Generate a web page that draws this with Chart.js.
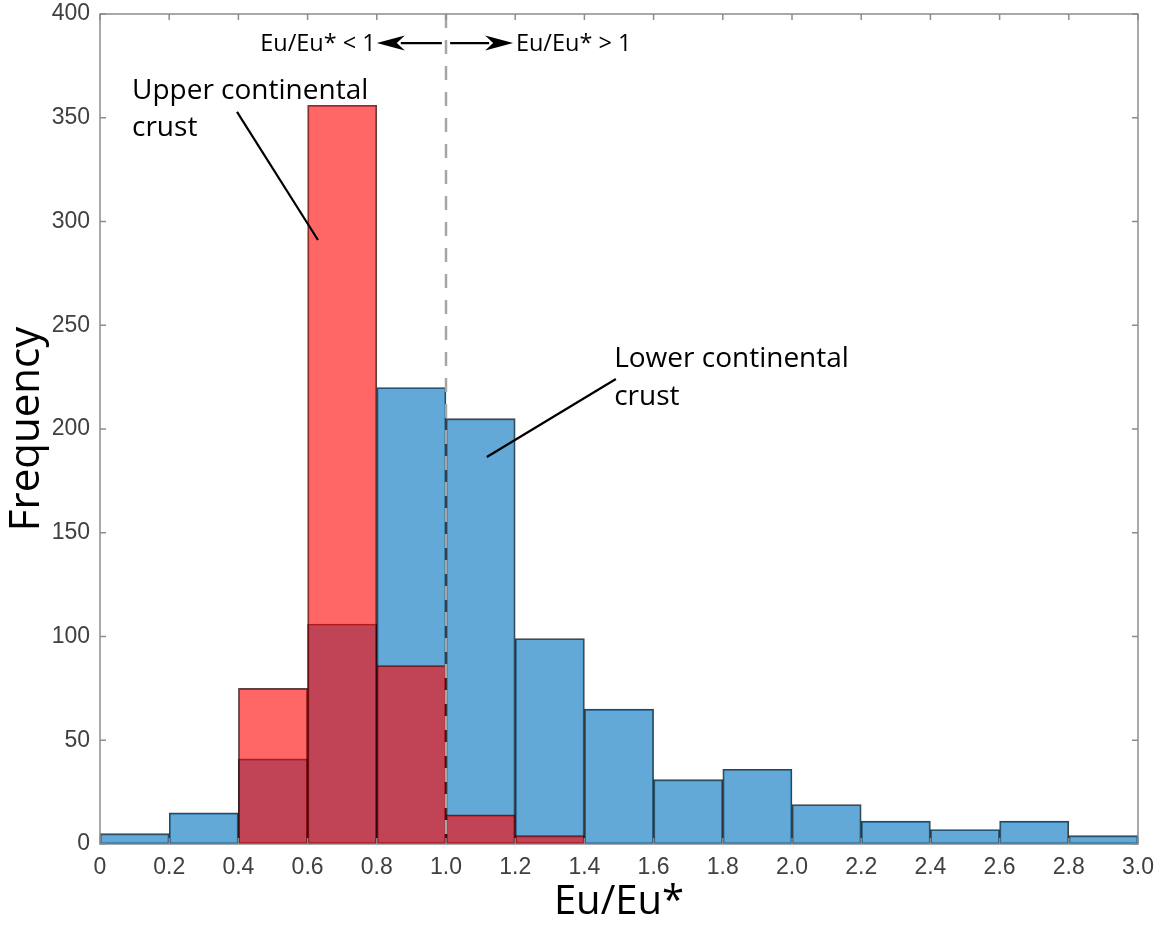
<!DOCTYPE html>
<html>
<head>
<meta charset="utf-8">
<title>Eu/Eu* histogram</title>
<script src="https://cdn.jsdelivr.net/npm/chart.js@4.4.1/dist/chart.umd.min.js"></script>
<style>
html,body{margin:0;padding:0;background:#fff}
</style>
</head>
<body>
<canvas id="euChart" width="1158" height="930"></canvas>
<script>

// ===============================
// DATA (bins are 0.2 wide)
// ===============================

const binCenters = [0.1,0.3,0.5,0.7,0.9,1.1,1.3,1.5,1.7,1.9,2.1,2.3,2.5,2.7,2.9]

const lowerCrust = [5,15,41,106,220,205,99,65,31,36,19,11,7,11,4]

const upperCrust = [null,null,75,356,86,14,4,null,null,null,null,null,null,null,null]

const xTickLabels = ["0","0.2","0.4","0.6","0.8","1.0","1.2","1.4","1.6","1.8","2.0","2.2","2.4","2.6","2.8","3.0"]

const yTickLabels = ["0","50","100","150","200","250","300","350","400"]

// annotation anchors, in data units
const dividerX = 1.0

const upperLabel = {lines:["Upper continental","crust"], x:0.0925, y:[359,341.2]}
const upperLeader = [[0.396,352.8],[0.630,291.1]]

const lowerLabel = {lines:["Lower continental","crust"], x:1.486, y:[229.9,211.6]}
const lowerLeader = [[1.491,224.1],[1.118,186.5]]

const leftNote = {text:"Eu/Eu* < 1", x:0.797, y:382.2}
const rightNote = {text:"Eu/Eu* > 1", x:1.202, y:382.2}
const leftArrow = {from:0.988, to:0.80, y:386}
const rightArrow = {from:1.012, to:1.194, y:386}

const FRAME = "#8c8c8c"
const LABEL_FONT = "'Open Sans', 'Noto Sans', sans-serif"
const TICK_FONT = "'Liberation Sans', Arial, sans-serif"

function toPoints(values){
return values.map((v,i)=>({x:binCenters[i], y:v}))
}

// no extra room for tick labels, the layout padding decides
function noScalePadding(scale){
scale.paddingTop = 0
scale.paddingBottom = 0
scale.paddingLeft = 0
scale.paddingRight = 0
}

// ===============================
// PLUGIN: frame, inner ticks, notes
// ===============================

function drawArrow(ctx, x1, x2, y){

const dir = x2 > x1 ? 1 : -1
const headLen = 28
const halfW = 7.5
const notch = 8

ctx.beginPath()
ctx.moveTo(x1, y)
ctx.lineTo(x2 - dir*(headLen-4), y)
ctx.stroke()

ctx.beginPath()
ctx.moveTo(x2, y)
ctx.lineTo(x2 - dir*headLen, y - halfW)
ctx.lineTo(x2 - dir*(headLen-notch), y)
ctx.lineTo(x2 - dir*headLen, y + halfW)
ctx.closePath()
ctx.fill()

}

const notesPlugin = {

id:"notes",

afterDatasetsDraw(chart){

const {ctx, chartArea:a} = chart
const x = chart.scales.x
const y = chart.scales.y

ctx.save()

// dashed divider at Eu/Eu* = 1
const xd = x.getPixelForValue(dividerX)
ctx.strokeStyle = "#a6a6a6"
ctx.lineWidth = 2.5
ctx.setLineDash([14,12])
ctx.beginPath()
ctx.moveTo(xd, a.top)
ctx.lineTo(xd, a.bottom)
ctx.stroke()
ctx.setLineDash([])

// box round the axes
ctx.strokeStyle = FRAME
ctx.lineWidth = 1.5
ctx.strokeRect(a.left, a.top, a.right-a.left, a.bottom-a.top)

// ticks pointing inwards on all four sides
const tl = 6
ctx.beginPath()
x.ticks.forEach(t=>{
const px = x.getPixelForValue(t.value)
ctx.moveTo(px, a.bottom); ctx.lineTo(px, a.bottom-tl)
ctx.moveTo(px, a.top); ctx.lineTo(px, a.top+tl)
})
y.ticks.forEach(t=>{
const py = y.getPixelForValue(t.value)
ctx.moveTo(a.left, py); ctx.lineTo(a.left+tl, py)
ctx.moveTo(a.right, py); ctx.lineTo(a.right-tl, py)
})
ctx.stroke()

// arrows and the two notes at the top
ctx.strokeStyle = "#000"
ctx.fillStyle = "#000"
ctx.lineWidth = 2.2
drawArrow(ctx, x.getPixelForValue(leftArrow.from), x.getPixelForValue(leftArrow.to), y.getPixelForValue(leftArrow.y))
drawArrow(ctx, x.getPixelForValue(rightArrow.from), x.getPixelForValue(rightArrow.to), y.getPixelForValue(rightArrow.y))

ctx.font = "23.5px " + LABEL_FONT
ctx.textBaseline = "alphabetic"
ctx.textAlign = "right"
ctx.fillText(leftNote.text, x.getPixelForValue(leftNote.x), y.getPixelForValue(leftNote.y))
ctx.textAlign = "left"
ctx.fillText(rightNote.text, x.getPixelForValue(rightNote.x), y.getPixelForValue(rightNote.y))

// crust labels
ctx.font = "28px " + LABEL_FONT
;[upperLabel, lowerLabel].forEach(lbl=>{
lbl.lines.forEach((line,i)=>{
ctx.fillText(line, x.getPixelForValue(lbl.x), y.getPixelForValue(lbl.y[i]))
})
})

// leader lines
ctx.lineWidth = 2.2
;[upperLeader, lowerLeader].forEach(seg=>{
ctx.beginPath()
ctx.moveTo(x.getPixelForValue(seg[0][0]), y.getPixelForValue(seg[0][1]))
ctx.lineTo(x.getPixelForValue(seg[1][0]), y.getPixelForValue(seg[1][1]))
ctx.stroke()
})

ctx.restore()

}

}

// ===============================
// CHART
// ===============================

const euChart = new Chart(document.getElementById("euChart"),{

type:"bar",

data:{
datasets:[
{
label:"Upper continental crust",
data:toPoints(upperCrust),
backgroundColor:"rgba(255,0,0,0.6)",
borderColor:"rgba(40,0,0,0.75)",
borderWidth:1.2,
borderSkipped:false,
grouped:false,
barPercentage:1,
categoryPercentage:1
},
{
label:"Lower continental crust",
data:toPoints(lowerCrust),
backgroundColor:"rgba(0,114,189,0.61)",
borderColor:"rgba(0,0,0,0.75)",
borderWidth:1.2,
borderSkipped:false,
grouped:false,
barPercentage:1,
categoryPercentage:1
}
]
},

options:{
responsive:false,
animation:false,
events:[],

layout:{
padding:{left:0, right:20, top:14, bottom:0}
},

plugins:{
legend:{display:false},
tooltip:{enabled:false}
},

scales:{

x:{
type:"linear",
min:0,
max:3,
offset:false,
grid:{display:false, drawTicks:false, offset:false},
border:{display:false},
ticks:{
stepSize:0.2,
padding:10,
color:"#404040",
font:{family:TICK_FONT, size:23},
maxRotation:0,
autoSkip:false,
callback:(v,i)=>xTickLabels[i]
},
title:{
display:true,
text:"Eu/Eu*",
color:"#000",
font:{family:LABEL_FONT, size:40},
padding:{top:0, bottom:3}
},
afterFit:(scale)=>{ scale.height = 86; noScalePadding(scale) }
},

y:{
min:0,
max:400,
grid:{display:false, drawTicks:false},
border:{display:false},
ticks:{
stepSize:50,
padding:10,
color:"#404040",
font:{family:TICK_FONT, size:23},
callback:(v,i)=>yTickLabels[i]
},
title:{
display:true,
text:"Frequency",
color:"#000",
font:{family:LABEL_FONT, size:42},
padding:{top:2, bottom:0}
},
afterFit:(scale)=>{ scale.width = 100; noScalePadding(scale) }
}

}

},

plugins:[notesPlugin]

})

</script>
</body>
</html>
